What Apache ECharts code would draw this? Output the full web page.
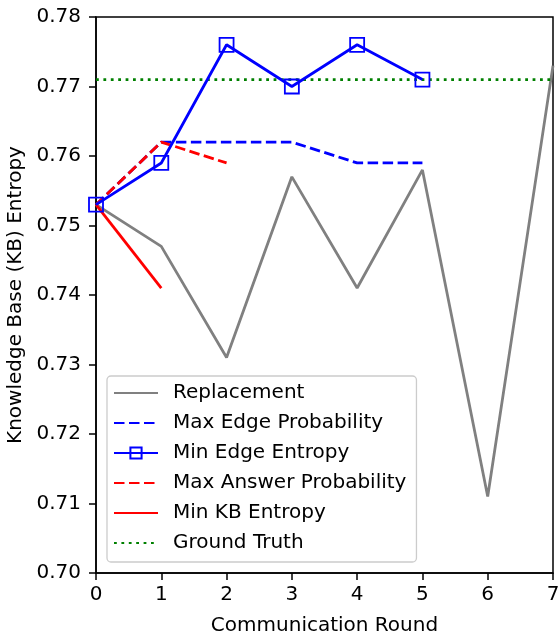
<!DOCTYPE html>
<html>
<head>
<meta charset="utf-8">
<script src="https://cdn.jsdelivr.net/npm/echarts@6/dist/echarts.min.js"></script>
<style>html,body{margin:0;padding:0;background:#fff}#c{width:558px;height:637px}</style>
</head>
<body>
<div id="c"></div>
<script>
const rounds = [0, 1, 2, 3, 4, 5, 6, 7];
const replacement = [0.753, 0.747, 0.731, 0.757, 0.741, 0.758, 0.711, 0.773];
const maxEdgeProbability = [0.753, 0.762, 0.762, 0.762, 0.759, 0.759];
const minEdgeEntropy = [0.753, 0.759, 0.776, 0.770, 0.776, 0.771];
const maxAnswerProbability = [0.753, 0.762, 0.759];
const minKBEntropy = [0.753, 0.741];
const groundTruth = [0.771, 0.771, 0.771, 0.771, 0.771, 0.771, 0.771, 0.771];
const yTicks = ['0.70','0.71','0.72','0.73','0.74','0.75','0.76','0.77','0.78'];
const legendNames = ['Replacement', 'Max Edge Probability', 'Min Edge Entropy', 'Max Answer Probability', 'Min KB Entropy', 'Ground Truth'];

const pairs = v => v.map((y, i) => [rounds[i], y]);
const FONT = 'DejaVu Sans';
const LW = 2.8;

function lineSeries(name, vals, color, type, extra) {
  return Object.assign({
    name: name, type: 'line', data: pairs(vals),
    symbol: 'none', showSymbol: false,
    lineStyle: { color: color, width: LW, type: type, cap: 'butt' },
    itemStyle: { color: color },
    emphasis: { disabled: true }, animation: false, z: 2
  }, extra || {});
}

const chart = echarts.init(document.getElementById('c'), null, { renderer: 'canvas' });
chart.setOption({
  animation: false,
  backgroundColor: '#fff',
  textStyle: { fontFamily: FONT },
  grid: { left: 96, right: 5, top: 17, bottom: 64, outerBoundsMode: 'none', containLabel: false,
    show: true, borderColor: '#000', borderWidth: 1.5, backgroundColor: 'transparent' },
  xAxis: {
    type: 'value', min: 0, max: 7, interval: 1,
    name: 'Communication Round', nameLocation: 'middle', nameGap: 43,
    nameTextStyle: { fontFamily: FONT, fontSize: 20, color: '#000' },
    axisLine: { show: true, lineStyle: { color: '#000', width: 1.5 } },
    axisTick: { show: true, length: 7, lineStyle: { color: '#000', width: 1.5 } },
    axisLabel: { fontFamily: FONT, fontSize: 20, color: '#000', margin: 12 },
    splitLine: { show: false }
  },
  yAxis: {
    type: 'value', min: 0.70, max: 0.78, interval: 0.01,
    name: 'Knowledge Base (KB) Entropy', nameLocation: 'middle', nameGap: 67, nameRotate: 90,
    nameTextStyle: { fontFamily: FONT, fontSize: 20, color: '#000' },
    axisLine: { show: true, lineStyle: { color: '#000', width: 1.5 } },
    axisTick: { show: true, length: 7, lineStyle: { color: '#000', width: 1.5 } },
    axisLabel: { fontFamily: FONT, fontSize: 20, color: '#000', margin: 15,
      formatter: v => yTicks[Math.round((v - 0.70) * 100)] },
    splitLine: { show: false }
  },
  legend: {
    orient: 'vertical', left: 107, top: 376,
    itemWidth: 44, itemHeight: 14, itemGap: 10,
    padding: [7, 10, 9, 6],
    backgroundColor: 'rgba(255,255,255,0.8)',
    borderColor: '#cccccc', borderWidth: 1.3, borderRadius: 4,
    textStyle: { fontFamily: FONT, fontSize: 20, lineHeight: 20, color: '#000', padding: [0, 0, 0, 10] },
    data: legendNames.map(n => n === 'Min Edge Entropy'
      ? { name: n }
      : { name: n, itemStyle: { color: 'rgba(0,0,0,0)', borderWidth: 0, borderColor: 'rgba(0,0,0,0)' } })
  },
  series: [
    lineSeries('Replacement', replacement, '#808080', 'solid'),
    lineSeries('Max Edge Probability', maxEdgeProbability, '#0000ff', [10.5, 4.5]),
    lineSeries('Min Edge Entropy', minEdgeEntropy, '#0000ff', 'solid', {
      symbol: 'rect', showSymbol: true, symbolSize: 14,
      itemStyle: { color: 'rgba(0,0,0,0)', borderColor: '#0000ff', borderWidth: 1.8 }, z: 3
    }),
    lineSeries('Max Answer Probability', maxAnswerProbability, '#ff0000', [10.5, 4.5]),
    lineSeries('Min KB Entropy', minKBEntropy, '#ff0000', 'solid'),
    lineSeries('Ground Truth', groundTruth, '#008000', [2.8, 4.6])
  ]
});
</script>
</body>
</html>
